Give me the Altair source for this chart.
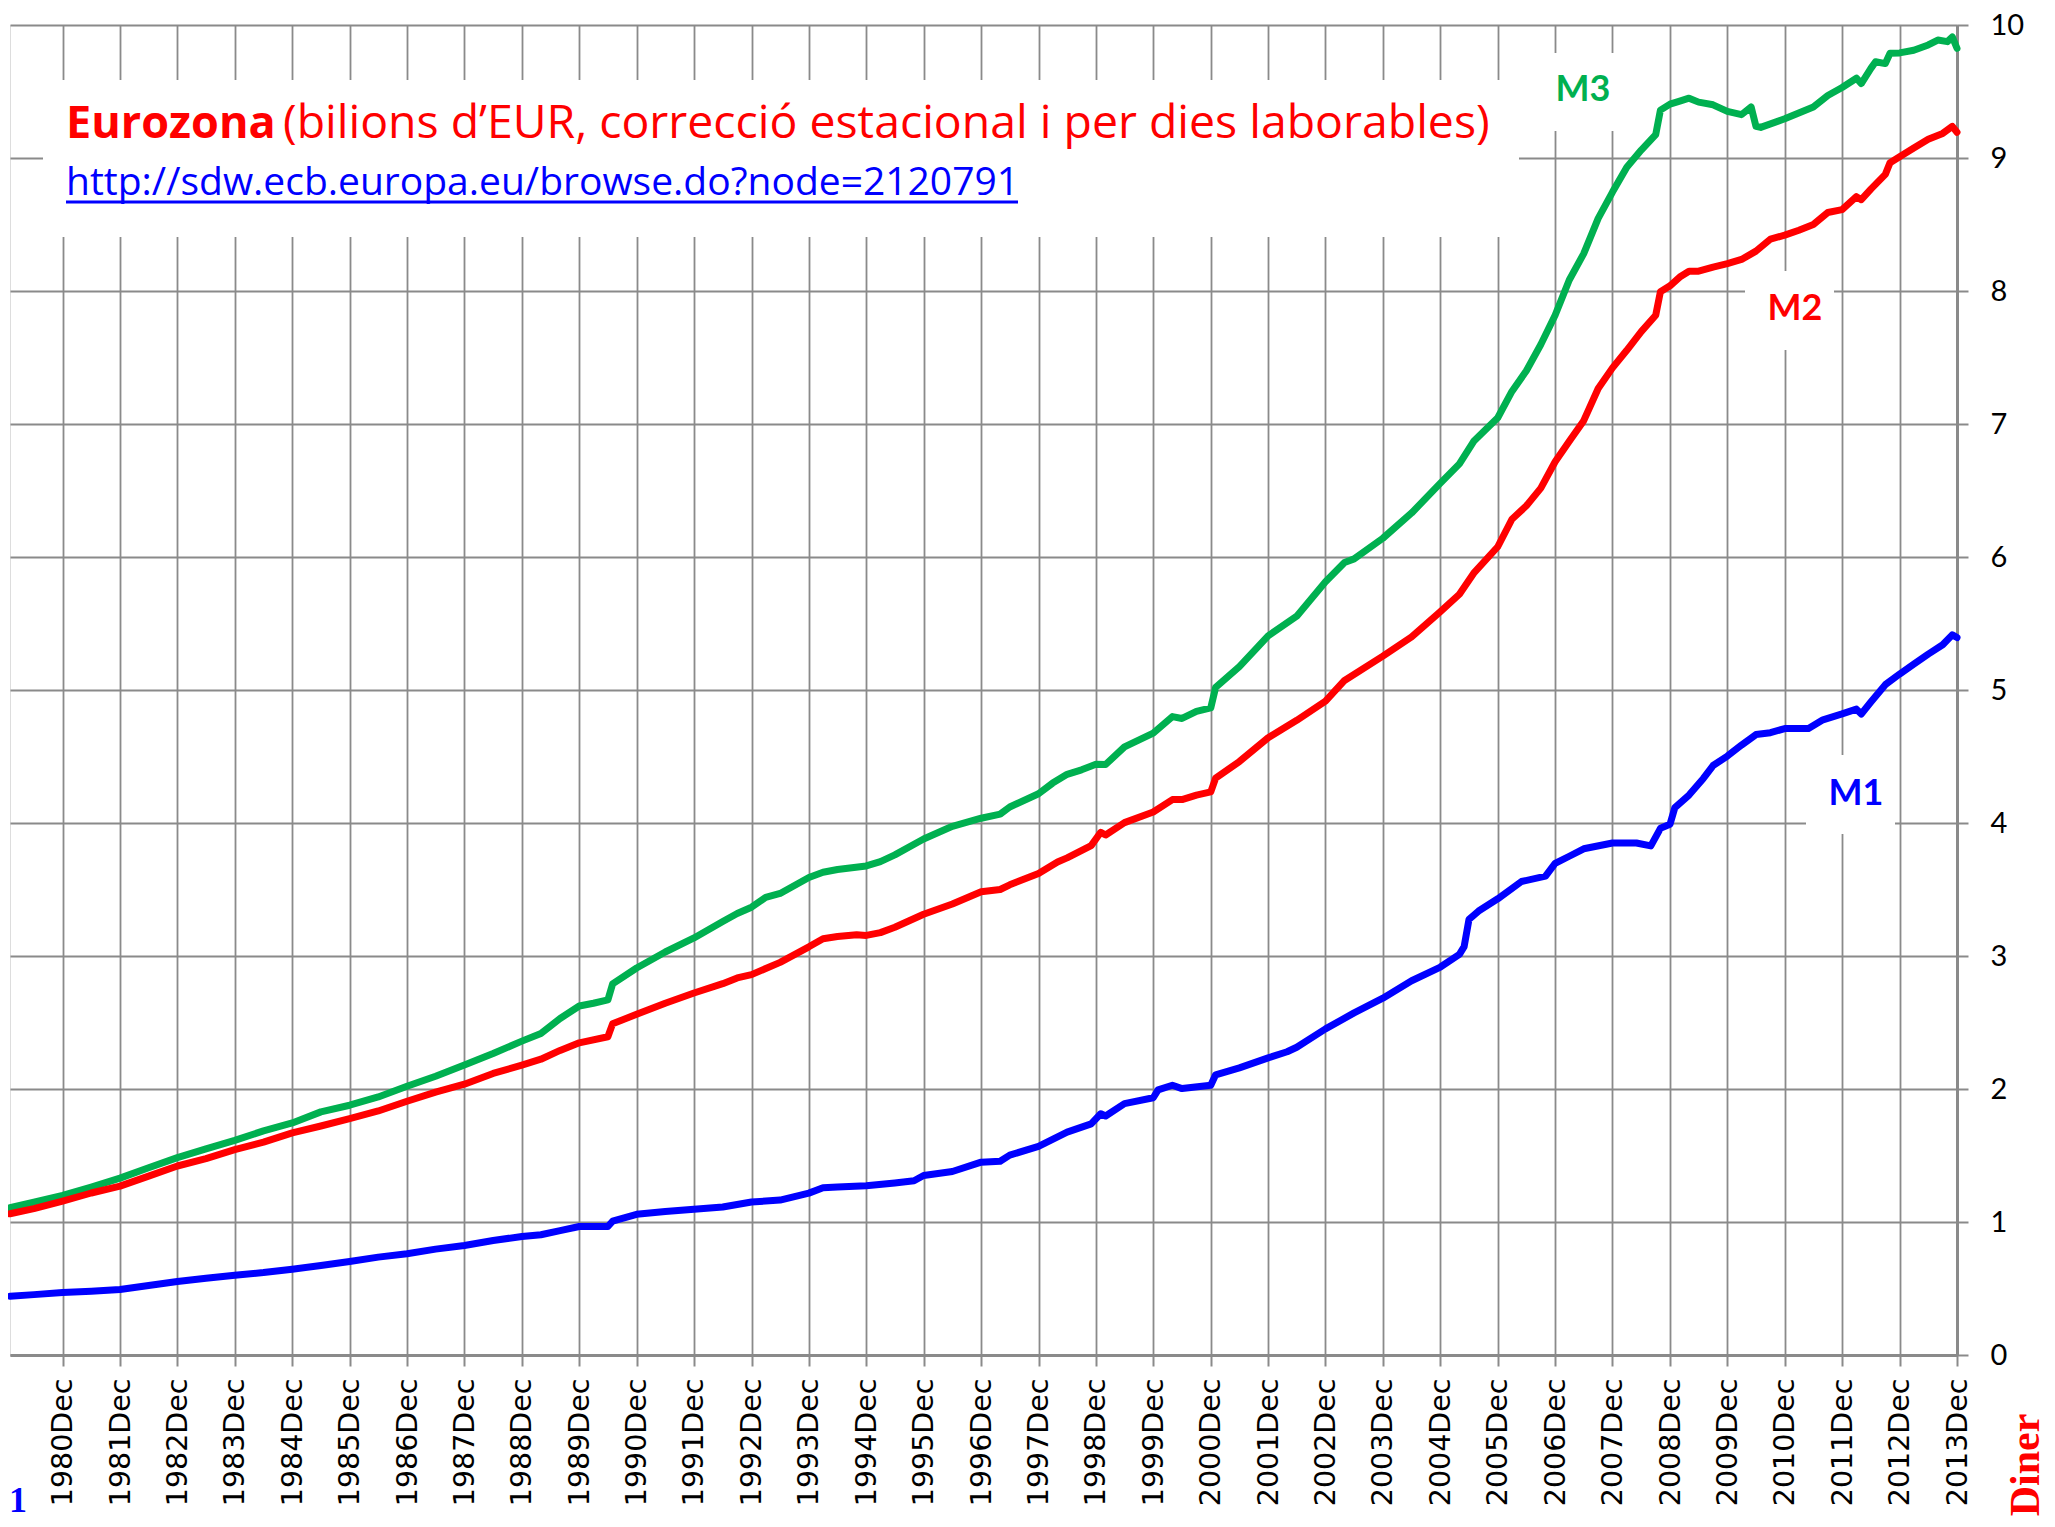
import altair as alt
import pandas as pd

# ---------------- data (trillions EUR) ----------------
m3_dates = ["1980-01","1980-06","1980-12","1981-06","1981-12","1982-06","1982-12","1983-06","1983-12",
            "1984-06","1984-12","1985-06","1985-12","1986-06","1986-12","1987-06","1987-12","1988-06",
            "1988-12","1989-04","1989-08","1989-12","1990-03","1990-06","1990-07","1990-12","1991-06",
            "1991-12","1992-06","1992-09","1992-12","1993-03","1993-06","1993-12","1994-03","1994-06",
            "1994-12","1995-03","1995-06","1995-12","1996-06","1996-12","1997-04","1997-06","1997-12",
            "1998-03","1998-06","1998-09","1998-12","1999-02","1999-06","1999-12","2000-04","2000-06",
            "2000-09","2000-12","2001-01","2001-06","2001-12","2002-06","2002-12","2003-04","2003-06",
            "2003-12","2004-06","2004-12","2005-04","2005-07","2005-12","2006-03","2006-06","2006-09",
            "2006-12","2007-03","2007-06","2007-09","2007-12","2008-03","2008-06","2008-09","2008-10",
            "2008-12","2009-02","2009-04","2009-06","2009-09","2009-12","2010-03","2010-05","2010-06",
            "2010-07","2010-12","2011-06","2011-09","2011-12","2012-03","2012-04","2012-06","2012-07",
            "2012-09","2012-10","2012-12","2013-03","2013-06","2013-08","2013-10","2013-11","2013-12"]
m3_values = [1.107,1.15,1.20,1.263,1.33,1.408,1.484,1.55,1.614,
             1.685,1.745,1.828,1.878,1.94,2.02,2.096,2.18,2.267,
             2.36,2.418,2.53,2.624,2.645,2.67,2.79,2.91,3.03,
             3.136,3.26,3.32,3.367,3.44,3.47,3.59,3.63,3.65,
             3.677,3.71,3.76,3.88,3.975,4.036,4.067,4.12,4.22,
             4.30,4.366,4.40,4.441,4.44,4.572,4.676,4.80,4.786,
             4.84,4.866,5.02,5.176,5.407,5.555,5.814,5.959,5.986,
             6.141,6.331,6.555,6.70,6.87,7.047,7.245,7.40,7.598,
             7.818,8.083,8.281,8.546,8.744,8.93,9.06,9.176,9.36,
             9.405,9.428,9.45,9.42,9.40,9.35,9.326,9.384,9.238,
             9.23,9.295,9.384,9.47,9.53,9.60,9.56,9.674,9.724,
             9.71,9.787,9.79,9.81,9.85,9.887,9.875,9.91,9.825]

m2_dates = ["1980-01","1980-06","1980-12","1981-06","1981-12","1982-06","1982-12","1983-06","1983-12",
            "1984-06","1984-12","1985-06","1985-12","1986-06","1986-12","1987-06","1987-12","1988-06",
            "1988-12","1989-04","1989-08","1989-12","1990-06","1990-07","1990-12","1991-06","1991-12",
            "1992-06","1992-09","1992-12","1993-06","1993-12","1994-03","1994-06","1994-10","1994-12",
            "1995-03","1995-06","1995-12","1996-06","1996-12","1997-04","1997-06","1997-12","1998-04",
            "1998-06","1998-11","1999-01","1999-02","1999-06","1999-12","2000-04","2000-06","2000-09",
            "2000-12","2001-01","2001-06","2001-12","2002-06","2002-12","2003-04","2003-12","2004-06",
            "2004-12","2005-04","2005-07","2005-12","2006-03","2006-06","2006-09","2006-12","2007-03",
            "2007-06","2007-09","2007-12","2008-03","2008-06","2008-09","2008-10","2008-12","2009-02",
            "2009-04","2009-06","2009-09","2009-12","2010-03","2010-06","2010-09","2010-12","2011-03",
            "2011-06","2011-09","2011-12","2012-03","2012-04","2012-06","2012-09","2012-10","2012-12",
            "2013-03","2013-06","2013-09","2013-11","2013-12"]
m2_values = [1.062,1.10,1.157,1.218,1.27,1.345,1.421,1.476,1.544,
             1.60,1.67,1.722,1.777,1.835,1.908,1.976,2.036,2.117,
             2.18,2.224,2.29,2.347,2.393,2.49,2.562,2.645,2.722,
             2.792,2.835,2.86,2.952,3.069,3.13,3.146,3.16,3.155,
             3.176,3.216,3.314,3.391,3.483,3.50,3.535,3.621,3.707,
             3.738,3.83,3.93,3.91,4.003,4.083,4.176,4.176,4.21,
             4.234,4.338,4.462,4.641,4.772,4.917,5.072,5.255,5.40,
             5.59,5.72,5.878,6.077,6.284,6.385,6.518,6.716,6.87,
             7.025,7.267,7.422,7.554,7.695,7.818,7.995,8.039,8.105,
             8.149,8.149,8.18,8.206,8.237,8.30,8.39,8.42,8.457,
             8.50,8.59,8.612,8.709,8.687,8.766,8.877,8.965,9.009,
             9.075,9.141,9.185,9.238,9.194]

m1_dates = ["1980-01","1980-06","1980-12","1981-06","1981-12","1982-06","1982-12","1983-06","1983-12",
            "1984-06","1984-12","1985-06","1985-12","1986-06","1986-12","1987-06","1987-12","1988-06",
            "1988-12","1989-04","1989-08","1989-12","1990-06","1990-07","1990-12","1991-06","1991-12",
            "1992-06","1992-12","1993-06","1993-12","1994-03","1994-06","1994-12","1995-06","1995-10",
            "1995-12","1996-06","1996-12","1997-04","1997-06","1997-12","1998-06","1998-11","1999-01",
            "1999-02","1999-06","1999-12","2000-01","2000-04","2000-06","2000-12","2001-01","2001-06",
            "2001-12","2002-04","2002-06","2002-12","2003-06","2003-12","2004-06","2004-12","2005-04",
            "2005-05","2005-06","2005-08","2005-12","2006-05","2006-10","2006-12","2007-03","2007-06",
            "2007-12","2008-05","2008-08","2008-10","2008-12","2009-01","2009-04","2009-07","2009-09",
            "2009-12","2010-03","2010-06","2010-09","2010-12","2011-05","2011-08","2011-12","2012-03",
            "2012-04","2012-06","2012-09","2012-12","2013-03","2013-06","2013-09","2013-11","2013-12"]
m1_values = [0.442,0.454,0.47,0.48,0.492,0.522,0.552,0.577,0.60,
             0.62,0.645,0.673,0.703,0.736,0.761,0.796,0.823,0.861,
             0.891,0.904,0.935,0.966,0.966,1.006,1.058,1.079,1.095,
             1.113,1.15,1.165,1.217,1.257,1.263,1.273,1.294,1.31,
             1.35,1.38,1.45,1.457,1.503,1.568,1.676,1.738,1.814,
             1.797,1.89,1.934,1.993,2.028,2.003,2.028,2.107,2.159,
             2.234,2.28,2.314,2.452,2.572,2.683,2.814,2.917,3.012,
             3.07,3.275,3.338,3.43,3.56,3.60,3.696,3.75,3.806,
             3.85,3.85,3.828,3.96,3.99,4.116,4.21,4.335,4.432,
             4.503,4.586,4.665,4.679,4.71,4.71,4.776,4.82,4.856,
             4.82,4.91,5.04,5.12,5.195,5.27,5.34,5.415,5.394]

series_names = ["M3", "M2", "M1"]
series_colors = ["#00B050", "#FF0000", "#0000FF"]
y_ticks = list(range(0, 11))
tick_years = list(range(1980, 2014))

title_bold = "Eurozona"
title_rest = "(bilions d\u2019EUR, correcci\u00f3 estacional i per dies laborables)"
url_text = "http://sdw.ecb.europa.eu/browse.do?node=2120791"

# ---------------- build table ----------------
def frame(name, dates, values):
    return pd.DataFrame({"date": pd.to_datetime(dates), "value": values, "series": name})

df = pd.concat([frame("M3", m3_dates, m3_values),
                frame("M2", m2_dates, m2_values),
                frame("M1", m1_dates, m1_values)], ignore_index=True)

W, H = 1947, 1330
GRID = "#8a8a8a"
one = pd.DataFrame({"k": [0]})

x_axis = alt.Axis(values=[alt.DateTime(year=y, month=12, date=1) for y in tick_years],
                  format="%Y%b", labelAngle=-90, labelFont="DejaVu Sans", labelFontSize=28.5,
                  labelColor="black", labelPadding=12, labelFlush=False, labelOverlap=False,
                  tickSize=11, tickColor=GRID, tickWidth=2, domainColor=GRID, domainWidth=3,
                  grid=True, gridColor=GRID, gridWidth=1.8, title=None)
y_axis = alt.Axis(orient="right", values=y_ticks, labelFont="Lato", labelFontSize=29,
                  labelColor="black", labelAlign="left", labelBaseline="middle", labelPadding=22,
                  labelFlush=False, labelOverlap=False,
                  tickSize=11, tickColor=GRID, tickWidth=2, domainColor=GRID, domainWidth=3,
                  grid=True, gridColor=GRID, gridWidth=1.8, title=None)

lines = alt.Chart(df).mark_line(strokeWidth=7, strokeJoin="round", strokeCap="round").encode(
    x=alt.X("date:T", axis=x_axis,
            scale=alt.Scale(domain=[alt.DateTime(year=1980, month=1, date=1),
                                    alt.DateTime(year=2013, month=12, date=1)], nice=False)),
    y=alt.Y("value:Q", axis=y_axis, scale=alt.Scale(domain=[0, 10], nice=False)),
    color=alt.Color("series:N", scale=alt.Scale(domain=series_names, range=series_colors), legend=None),
)

def box(x0, x1, y0, y1):
    return alt.Chart(one).mark_rect(color="white").encode(
        x=alt.value(x0), x2=alt.value(x1), y=alt.value(y0), y2=alt.value(y1))

def label(text, x, y, color, size=36, weight="bold", font="Lato", align="center",
          baseline="middle", angle=0):
    return alt.Chart(one).mark_text(text=text, color=color, fontSize=size, fontWeight=weight,
                                    font=font, align=align, baseline=baseline, angle=angle).encode(
        x=alt.value(x), y=alt.value(y))

boxes = [box(33, 1509, 55, 212),      # title block
         box(1528, 1617, 28, 106),    # M3
         box(1735, 1824, 246, 325),   # M2
         box(1796, 1885, 730, 809)]   # M1

texts = [
    label(title_bold, 56, 113, "#FF0000", size=45, weight="bold", font="Open Sans",
          align="left", baseline="alphabetic"),
    label(title_rest, 273, 113, "#FF0000", size=46.4, weight="normal", font="Open Sans",
          align="left", baseline="alphabetic"),
    label(url_text, 56, 170, "#0000FF", size=39, weight="normal", font="Open Sans",
          align="left", baseline="alphabetic"),
    label("M3", 1573, 65, "#00B050"),
    label("M2", 1785, 284, "#FF0000"),
    label("M1", 1846, 769, "#0000FF"),
    label("1", -1, 1487, "#0000FF", size=36, font="Liberation Serif", align="left", baseline="alphabetic"),
    label("Diner", 2016, 1440, "#FF0000", size=42, font="Liberation Serif", angle=270),
]
underline = alt.Chart(one).mark_rule(color="#0000FF", strokeWidth=3).encode(
    x=alt.value(56), x2=alt.value(1008), y=alt.value(177))

chart = alt.layer(*boxes, lines, underline, *texts).properties(
    width=W, height=H,
    padding={"left": 2, "top": 17, "right": 90, "bottom": 164},
    autosize=alt.AutoSizeParams(type="none"),
).configure_view(stroke=GRID, strokeWidth=2).configure(background="white")

chart.save("out.html", embed_options={"renderer": "svg", "actions": False})
